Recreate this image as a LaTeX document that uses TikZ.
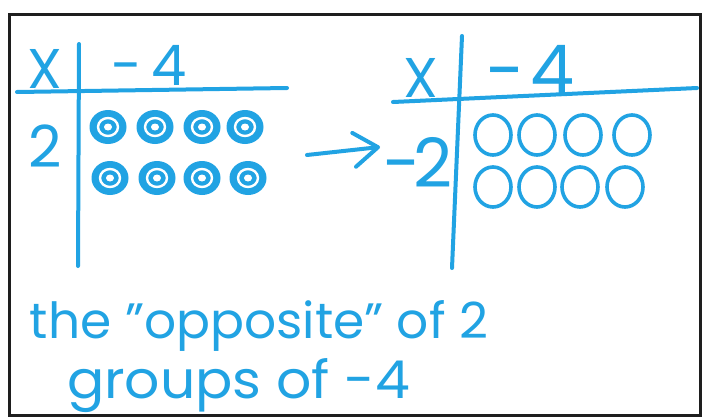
\documentclass[tikz,border=0pt]{standalone}
\usepackage{fontspec}
\setmainfont{Poppins}
\usetikzlibrary{arrows.meta}
\definecolor{marker}{RGB}{33,163,227}
\definecolor{framec}{RGB}{30,30,30}
\tikzset{
  hand/.style={text=marker, inner sep=0pt, outer sep=0pt},
  pen/.style={draw=marker, line width=4pt, line cap=round},
  opencirc/.style={draw=marker, line width=3.6pt, fill=none},
}
\newcommand{\fs}[1]{\fontsize{#1}{#1}\selectfont}
\newcommand{\dotcoin}[2]{%
  \fill[marker] (#1,#2) ellipse [x radius=18.5, y radius=17];
  \draw[white, line width=2.4pt] (#1,#2) ellipse [x radius=10, y radius=9];
  \fill[white] (#1,#2) ellipse [x radius=4, y radius=3.5];
}
\begin{document}
\begin{tikzpicture}[x=1pt, y=-1pt]
\useasboundingbox (0,0) rectangle (712,418);
\fill[white] (0,0) rectangle (712,418);
\draw[framec, line width=3pt] (9,14) rectangle (700,415);

% ---- left table ----
\coordinate (lvt) at (79,44);
\coordinate (lvb) at (78,266);
\coordinate (lhl) at (17,92);
\coordinate (lhr) at (287,88);
\draw[pen] (lvt) -- (lvb);
\draw[pen] (lhl) -- (lhr);
\node[hand, anchor=base] (lx) at (45,88) {\fs{56}X};
\node[hand, anchor=base west] (lm4) at (111,85) {\fs{56}-\hspace{10pt}4};
\node[hand, anchor=base] (l2) at (45,167) {\fs{58}2};
\dotcoin{108}{127}
\dotcoin{155}{127}
\dotcoin{202}{127}
\dotcoin{245}{127}
\dotcoin{110}{178}
\dotcoin{157}{178}
\dotcoin{202}{178}
\dotcoin{248}{178}

% ---- arrow ----
\coordinate (atail) at (307,155);
\coordinate (ahead) at (380,147);
\draw[pen, -{Straight Barb[length=24pt, width=34pt, line width=4pt, round]}] (atail) -- (ahead);

% ---- right table ----
\coordinate (rvt) at (462,36);
\coordinate (rvb) at (452,268);
\coordinate (rhl) at (393,102);
\coordinate (rhr) at (697,88);
\draw[pen] (rvt) -- (rvb);
\draw[pen] (rhl) -- (rhr);
\node[hand, anchor=base] (rx) at (421,97) {\fs{56}X};
\node[hand, anchor=base west] (rm4) at (486,95) {\fs{70}-\hspace{6pt}4};
\node[hand, anchor=base] (rm2) at (418,187) {\fs{68}-\hspace{-8pt}2};
\foreach \cx in {493,537,583,632} \draw[opencirc] (\cx,135) ellipse [x radius=18, y radius=20];
\foreach \cx in {493,537,580,625} \draw[opencirc] (\cx,187) ellipse [x radius=18, y radius=20];

% ---- caption ----
\node[hand, anchor=base west] (cap1) at (30,338) {\resizebox{458pt}{38pt}{\fs{50}the "opposite" of 2}};
\node[hand, anchor=base west] (cap2) at (67,398) {\resizebox{343pt}{40pt}{\fs{50}groups of -4}};
\end{tikzpicture}
\end{document}
